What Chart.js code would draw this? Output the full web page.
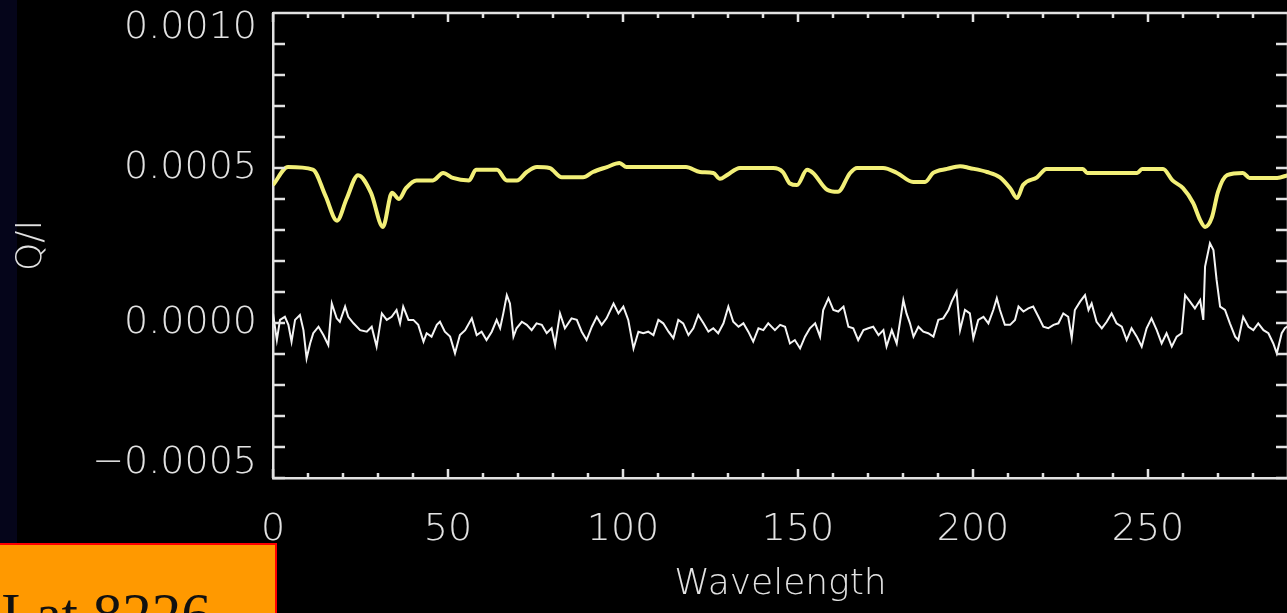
<!DOCTYPE html>
<html>
<head>
<meta charset="utf-8">
<script src="https://cdn.jsdelivr.net/npm/chart.js@4/dist/chart.umd.min.js"></script>
<style>
    html, body { margin: 0; padding: 0; background: #000; overflow: hidden; }
    #wrap { position: absolute; left: 0; top: 0; width: 1300px; height: 613px; }
    #strip { position: absolute; left: 0; top: 0; width: 17px; height: 543px; background: #05051a; }
    #label {
        position: absolute; left: 0; top: 543px; width: 277px; height: 90px;
        background: #ff9900; border-top: 2px solid #ff0000; border-right: 2px solid #ff0000;
        font-family: "Liberation Serif", serif; font-size: 59px; color: #111;
        line-height: 1; white-space: nowrap; box-sizing: border-box; padding: 40px 0 0 1px;
    }
    canvas { position: absolute; left: 0; top: 0; }
</style>
</head>
<body>
<div id="strip"></div>
<div id="wrap"><canvas id="chart" width="1300" height="613"></canvas></div>
<div id="label">I at 8226</div>
<script>
// Q/I values are stored in units of 1e-5
var SCALE = 1e-5;

// yellow curve (smooth, with absorption dips)
var wlYellow = [0, 4.3, 11.4, 15, 18.3, 21, 24.3, 28, 31.4, 34, 36, 38, 41, 45.7, 48.6, 51.4, 56, 58, 64, 66.8,
    69.7, 72.5, 75.4, 79, 82.5, 88.6, 91.4, 95.4, 99, 101, 118, 122, 125.8, 127.7, 129.7, 133.4, 142.9, 145.7, 147.7, 149.7,
    152.6, 154.3, 158.3, 161.4, 164.9, 166.9, 174.3, 178.3, 182.9, 186.3, 188.6, 192.6, 196.3, 199, 204, 207.7, 210.6, 212.6, 214.3, 218.3,
    221, 231.4, 232.6, 246.9, 248.3, 254.3, 257, 260, 262.9, 264.9, 266.3, 268.3, 270, 272.6, 277.1, 279, 286.9, 290];
var qYellow = [44.5, 50.3, 49.5, 41, 33, 40, 47.7, 42, 31, 42, 40, 43.5, 46, 46, 48.4, 46.8, 46, 49.4, 49.4, 46,
    46, 48.7, 50.3, 50, 47, 47, 48.7, 50.3, 51.6, 50.3, 50.3, 48.7, 48.4, 46.5, 47.7, 50, 50, 48.7, 45, 44.5,
    49.4, 48.4, 43, 42.3, 48.4, 50, 50, 48.4, 45.5, 45.5, 48.4, 49.7, 50.6, 50, 48.7, 47, 43.5, 40.3, 44.5, 47,
    49.7, 49.7, 48.4, 48.4, 49.7, 49.7, 46, 43.5, 38.7, 33.2, 31, 34.2, 42.3, 47.7, 48.4, 46.8, 46.8, 47.7];

// white curve (noisy, around zero)
var wlWhite = [0, 1.1, 2, 3.4, 4.4, 5.3, 6.3, 7.7, 8.7, 9.6, 10.6, 11.5, 13, 14.4, 15.8, 16.8, 18.2, 19.1, 20.6, 21.5,
    23, 24.9, 26.8, 28.2, 29.6, 31.1, 32.5, 33.9, 35.3, 36.3, 37.2, 38.7, 40.1, 41.5, 43, 43.9, 45.3, 46.8, 47.7, 49.1,
    50.6, 52, 53.4, 54.9, 56.8, 58.2, 59.6, 61, 62.5, 63.9, 64.9, 65.8, 66.8, 67.7, 68.7, 69.6, 71.1, 72.5, 73.9, 75.3,
    76.8, 78.2, 79.6, 80.6, 82, 83.4, 85.3, 86.8, 88.2, 89.6, 91.1, 92.5, 93.9, 95.3, 97.3, 98.7, 100.1, 101.5, 103, 104.4,
    105.8, 107.2, 108.7, 110.1, 111.5, 113, 114.4, 115.8, 117.2, 118.7, 120.1, 121.5, 123, 124.4, 125.8, 127.2, 128.7, 130.1, 131.5, 133,
    134.4, 135.8, 137.2, 138.7, 140.1, 141.5, 143.4, 144.9, 146.3, 147.7, 149.1, 150.6, 152, 153.4, 154.9, 156.3, 157.2, 158.7, 160.1, 161.5,
    163, 164.4, 165.8, 167.2, 168.7, 170.1, 171.5, 173, 174.4, 175.3, 176.8, 178.2, 179.6, 180.1, 181, 182, 183, 184.4, 185.8, 187.2,
    188.7, 190.1, 191.5, 193, 193.9, 195.3, 196.3, 197.7, 199.1, 200.1, 201.5, 203, 204.4, 205.8, 206.8, 207.7, 209.1, 210.6, 212, 213,
    214.4, 215.8, 217.2, 218.7, 220.1, 221.5, 223, 224.4, 225.8, 227.2, 228.2, 229.1, 230.6, 232, 233, 233.9, 235.3, 236.8, 238.2, 239.6,
    241, 242.5, 243.9, 245.3, 246.8, 248.2, 249.6, 251, 252.5, 253.9, 255.3, 256.8, 258.2, 259.6, 260.6, 262, 263.4, 264.9, 265.8, 266.3,
    267.7, 268.7, 269.6, 270.6, 272, 273.4, 274.9, 275.8, 277.2, 278.7, 280.1, 281.5, 283, 284.4, 285.8, 286.8, 288.2, 289.1, 290];
var qWhite = [3.1, -5.5, 1.0, 2.0, -0.6, -6.0, 1.0, 2.6, -2.3, -11.4, -6.6, -3.3, -1.2, -3.9, -7.1, 6.3, 1.5, 0.4, 5.3, 2.0,
    -0.1, -2.3, -2.8, -1.2, -7.6, 3.1, 1.0, 2.0, 4.2, -0.1, 5.3, 1.0, 1.0, -0.6, -6.0, -3.3, -4.4, -0.6, 0.4, -2.8,
    -4.4, -9.8, -3.9, -2.3, 1.5, -3.9, -2.8, -5.5, -2.8, 1.0, -1.7, 3.1, 9.0, 6.3, -4.4, -1.7, 0.4, -0.6, -2.3, -0.1,
    -0.6, -3.3, -1.7, -7.1, 3.1, -1.7, 1.5, 1.0, -2.8, -5.5, -1.2, 2.0, -0.6, 1.5, 6.3, 3.1, 5.3, 1.0, -8.2, -2.8,
    -3.3, -2.8, -3.9, 1.0, -0.1, -2.8, -4.9, 1.0, -0.1, -3.9, -1.7, 2.6, -0.1, -2.8, -1.7, -3.3, -0.1, 5.3, 0.4, -1.2,
    -0.1, -2.8, -6.0, -1.7, -2.3, -0.1, -2.3, -0.6, -1.2, -6.6, -5.5, -8.2, -4.4, -1.7, -0.1, -4.4, 4.2, 8.0, 4.2, 3.7,
    5.3, -1.2, -1.7, -5.5, -2.3, -1.7, -1.2, -3.9, -2.3, -7.6, -2.3, -6.6, 3.7, 7.4, 3.1, -0.1, -4.4, -1.2, -2.8, -3.3,
    -4.4, 1.0, 1.5, 4.2, 6.9, 10.1, -2.3, 4.2, 3.1, -4.9, 1.0, 2.0, -0.1, 4.2, 8.0, 4.2, -0.6, -0.6, 1.0, 5.3,
    3.7, 4.7, 5.3, 2.0, -1.2, -1.7, -0.6, -0.1, 3.1, 2.0, -4.9, 4.2, 6.9, 9.0, 4.2, 6.3, 0.4, -1.7, 0.4, 3.1,
    -0.1, -1.2, -5.5, -1.7, -4.4, -7.6, -1.7, 1.5, -2.3, -6.6, -3.3, -7.6, -4.4, -3.3, 9.0, 6.9, 4.7, 7.4, 1.0, 18.2,
    25.7, 23.5, 13.9, 5.3, 4.2, -0.1, -4.4, -5.5, 2.0, -1.2, -2.3, -0.1, -2.3, -3.3, -6.6, -9.8, -3.3, -1.7, -1.0];

// axis ranges and ticks
var xRange = [0, 290];
var yRange = [-0.0005, 0.0010];
var xMajor = 50, xMinor = 10;
var yMajor = 0.0005, yMinor = 0.0001;

var AXIS = '#e2e2e2';
var FONT = { family: 'DejaVu Sans', size: 36, weight: '200' };

function toPoints(xs, ys) {
    return xs.map(function (x, i) { return { x: x, y: ys[i] * SCALE }; });
}

// IDL style box: top/right edges and inward tick marks on all four sides
var idlFrame = {
    id: 'idlFrame',
    afterDraw: function (chart) {
        var ctx = chart.ctx, a = chart.chartArea;
        var xs = chart.scales.x, ys = chart.scales.y;
        ctx.save();
        ctx.strokeStyle = AXIS;
        ctx.lineWidth = 2.5;
        ctx.beginPath();
        ctx.moveTo(a.left, a.top); ctx.lineTo(a.right, a.top); ctx.lineTo(a.right, a.bottom);
        var n = Math.round((xRange[1] - xRange[0]) / xMinor);
        for (var i = 0; i <= n; i++) {
            var v = xRange[0] + i * xMinor;
            var px = xs.getPixelForValue(v);
            var len = (v % xMajor === 0) ? 9 : 5;
            ctx.moveTo(px, a.bottom); ctx.lineTo(px, a.bottom - len);
            ctx.moveTo(px, a.top); ctx.lineTo(px, a.top + len);
        }
        var m = Math.round((yRange[1] - yRange[0]) / yMinor);
        for (var j = 0; j <= m; j++) {
            var py = ys.getPixelForValue(yRange[0] + j * yMinor);
            ctx.moveTo(a.left, py); ctx.lineTo(a.left + 12, py);
            ctx.moveTo(a.right, py); ctx.lineTo(a.right - 12, py);
        }
        ctx.stroke();
        ctx.restore();
    }
};

new Chart(document.getElementById('chart'), {
    type: 'line',
    data: {
        datasets: [{
            label: 'yellow',
            data: toPoints(wlYellow, qYellow),
            borderColor: '#f2ef78',
            borderWidth: 4,
            pointRadius: 0,
            cubicInterpolationMode: 'monotone'
        }, {
            label: 'white',
            data: toPoints(wlWhite, qWhite),
            borderColor: '#f4f4f4',
            borderWidth: 2,
            pointRadius: 0,
            tension: 0
        }]
    },
    options: {
        responsive: false,
        animation: false,
        events: [],
        layout: { padding: { left: 0, right: 12, top: 13, bottom: 0 } },
        plugins: { legend: { display: false }, tooltip: { enabled: false } },
        scales: {
            x: {
                type: 'linear',
                min: xRange[0],
                max: xRange[1],
                grid: { display: true, drawOnChartArea: false, drawTicks: false },
                border: { display: true, color: AXIS, width: 2.5 },
                ticks: {
                    stepSize: xMajor,
                    includeBounds: false,
                    maxRotation: 0,
                    autoSkip: false,
                    padding: 29,
                    color: AXIS,
                    font: { family: FONT.family, size: 38, weight: FONT.weight }
                },
                title: { display: true, text: 'Wavelength', color: AXIS, font: FONT, padding: { top: 0, bottom: 7 } },
                afterFit: function (s) { s.height = 135; s.paddingLeft = 0; s.paddingRight = 0; }
            },
            y: {
                type: 'linear',
                min: yRange[0],
                max: yRange[1],
                grid: { display: true, drawOnChartArea: false, drawTicks: false },
                border: { display: true, color: AXIS, width: 2.5 },
                ticks: {
                    stepSize: yMajor,
                    includeBounds: false,
                    padding: 16,
                    color: AXIS,
                    font: { family: FONT.family, size: 38, weight: FONT.weight, lineHeight: 0.8 },
                    callback: function (v) {
                        var s = v.toFixed(4).replace('-', '\u2212');
                        if (Math.abs(v - yRange[1]) < 1e-9) return ['', s];
                        if (Math.abs(v - yRange[0]) < 1e-9) return [s, ''];
                        return s;
                    }
                },
                title: { display: true, text: 'Q/I', color: AXIS, font: FONT, padding: { top: 10, bottom: 0 } },
                afterFit: function (s) { s.width = 273; s.paddingTop = 0; s.paddingBottom = 0; }
            }
        }
    },
    plugins: [idlFrame]
});
</script>
</body>
</html>
